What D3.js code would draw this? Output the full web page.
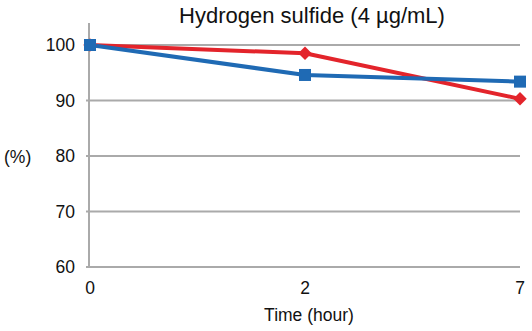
<!DOCTYPE html>
<html><head><meta charset="utf-8">
<script src="https://cdn.jsdelivr.net/npm/d3@7"></script>
<style>body{margin:0;background:#fff}svg{display:block}text{font-family:"Liberation Sans",Arial,sans-serif;fill:#111}</style>
</head><body>
<svg id="c" width="532" height="331"></svg>
<script>
const categories = ["0", "2", "7"];
const blueValues = [100, 94.6, 93.4];
const redValues = [100, 98.5, 90.3];
const yTicks = [60, 70, 80, 90, 100];
const title = "Hydrogen sulfide (4 µg/mL)";
const xTitle = "Time (hour)";
const yTitle = "(%)";

const svg = d3.select("#c");
const x = d3.scalePoint().domain(categories).range([90, 520]);
const y = d3.scaleLinear().domain([60, 100]).range([267, 45]);
const grid = "#aaaaaa";

svg.append("g").selectAll("line").data(yTicks).join("line")
  .attr("x1", 86).attr("x2", 520)
  .attr("y1", d => y(d)).attr("y2", d => y(d))
  .attr("stroke", grid).attr("stroke-width", 2);
svg.append("line").attr("x1", 89).attr("x2", 89).attr("y1", 23).attr("y2", y(60)+1)
  .attr("stroke", grid).attr("stroke-width", 2);

svg.append("g").selectAll("text").data(yTicks).join("text")
  .attr("x", 75).attr("y", d => y(d)).attr("dy", "0.36em")
  .attr("text-anchor", "end").attr("font-size", 17.5).text(d => d);
svg.append("g").selectAll("text").data(categories).join("text")
  .attr("x", d => x(d)).attr("y", 294)
  .attr("text-anchor", "middle").attr("font-size", 17.5).text(d => d);

svg.append("text").attr("x", 312).attr("y", 23).attr("text-anchor", "middle")
  .attr("font-size", 22).text(title);
svg.append("text").attr("x", 309).attr("y", 321).attr("text-anchor", "middle")
  .attr("font-size", 17.5).text(xTitle);
svg.append("text").attr("x", 4).attr("y", 163).attr("font-size", 17.5).text(yTitle);

const line = d3.line().x((d, i) => x(categories[i])).y(d => y(d));
const blue = "#1f6ab4", red = "#e3242b";

svg.append("path").datum(redValues).attr("d", line).attr("fill", "none")
  .attr("stroke", red).attr("stroke-width", 4).attr("stroke-linejoin", "round");
svg.append("path").datum(blueValues).attr("d", line).attr("fill", "none")
  .attr("stroke", blue).attr("stroke-width", 4).attr("stroke-linejoin", "round");

svg.append("g").selectAll("path").data(redValues).join("path")
  .attr("d", d3.symbol().type(d3.symbolDiamond2).size(115))
  .attr("transform", (d, i) => `translate(${x(categories[i])},${y(d)})`)
  .attr("fill", red);
svg.append("g").selectAll("rect").data(blueValues).join("rect")
  .attr("x", (d, i) => x(categories[i]) - 6).attr("y", d => y(d) - 6)
  .attr("width", 12).attr("height", 12).attr("fill", blue);
</script>
</body></html>
